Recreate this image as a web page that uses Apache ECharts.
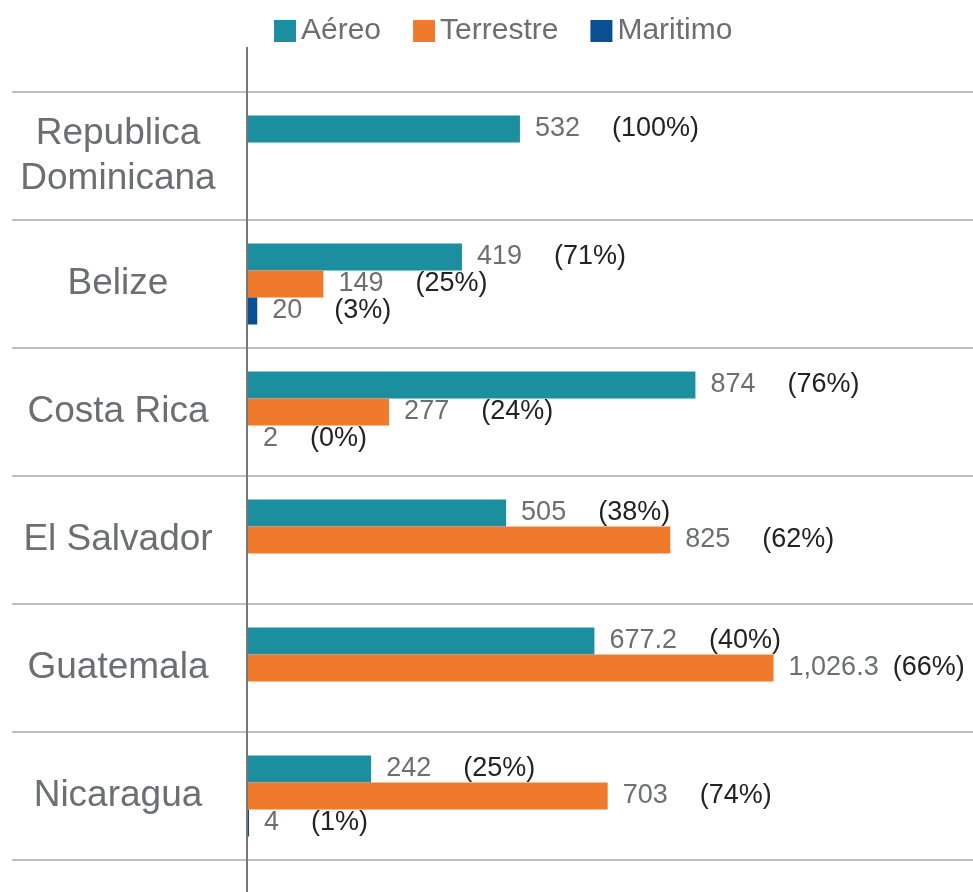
<!DOCTYPE html>
<html>
<head>
<meta charset="utf-8">
<script src="https://cdn.jsdelivr.net/npm/echarts@6/dist/echarts.min.js"></script>
<style>
html,body{margin:0;padding:0;background:#fff;}
#main{width:973px;height:892px;}
</style>
</head>
<body>
<div id="main"></div>
<script>
// categorias (de arriba hacia abajo)
var paises = ['Republica\nDominicana', 'Belize', 'Costa Rica', 'El Salvador', 'Guatemala', 'Nicaragua'];
var series_nombres = ['Aéreo', 'Terrestre', 'Maritimo'];
// valores
var aereo = [532, 419, 874, 505, 677.2, 242];
var terrestre = [null, 149, 277, 825, 1026.3, 703];
var maritimo = [null, 20, 2, null, null, 4];
// porcentajes
var aereo_pct = ['100%', '71%', '76%', '38%', '40%', '25%'];
var terrestre_pct = [null, '25%', '24%', '62%', '66%', '74%'];
var maritimo_pct = [null, '3%', '0%', null, null, '1%'];

var colores = ['#1b8fa0', '#f07a2c', '#084f94'];
var gris = '#6d6e73';
var fuente = 'Liberation Sans';

function etiqueta(pcts){
	return {
		show: true,
		position: 'right',
		distance: 15,
		formatter: function(p){
			if(p.value == null) return '';
			var v = Number(p.value).toLocaleString('en-US');
			return '{v|' + v + '}{p|(' + pcts[p.dataIndex] + ')}';
		},
		rich: {
			v: {color: gris, fontSize: 27, fontFamily: fuente},
			p: {color: '#222', fontSize: 27, fontFamily: fuente, padding: [0, 0, 0, 32]}
		}
	};
}

// la etiqueta de 1,026.3 va mas pegada para que quepa
function datos(vals, apretado){
	return vals.map(function(v, i){
		if(apretado && apretado.indexOf(i) >= 0){
			return {value: v, label: {rich: {p: {padding: [0, 0, 0, 14]}}}};
		}
		return v;
	});
}

var chart = echarts.init(document.getElementById('main'));
var option = {
	animation: false,
	color: colores,
	textStyle: {fontFamily: fuente},
	legend: {
		top: 11,
		left: 269,
		itemWidth: 22,
		itemHeight: 22,
		itemGap: 32,
		icon: 'rect',
		textStyle: {fontSize: 30, color: gris, fontFamily: fuente},
		data: series_nombres
	},
	grid: {left: 12, right: 0, top: 92, bottom: 32, containLabel: false, outerBoundsMode: 'none'},
	xAxis: {
		type: 'value',
		min: -458,
		max: 1415,
		show: false,
		splitLine: {show: false}
	},
	yAxis: {
		type: 'category',
		inverse: true,
		data: paises,
		offset: -235,
		axisLine: {show: false, onZero: false},
		axisTick: {show: false},
		axisLabel: {
			align: 'center',
			margin: 129,
			fontSize: 37,
			lineHeight: 45,
			color: gris,
			fontFamily: fuente
		},
		splitLine: {show: true, lineStyle: {color: '#aaaaaa', width: 1.5}}
	},
	series: [
		{name: 'Aéreo', type: 'bar', barWidth: 27, barGap: '0%', data: datos(aereo), label: etiqueta(aereo_pct)},
		{name: 'Terrestre', type: 'bar', barWidth: 27, barGap: '0%', data: datos(terrestre, [4]), label: etiqueta(terrestre_pct)},
		{name: 'Maritimo', type: 'bar', barWidth: 27, barGap: '0%', data: datos(maritimo), label: etiqueta(maritimo_pct)}
	]
};
chart.setOption(option);

// linea del eje vertical (se extiende mas alla de la rejilla)
var x0 = Math.round(chart.convertToPixel({xAxisIndex: 0}, 0));
chart.setOption({
	graphic: [{
		type: 'line',
		z: 10,
		shape: {x1: x0, y1: 47, x2: x0, y2: 892},
		style: {stroke: '#777', lineWidth: 2}
	}]
});
</script>
</body>
</html>
